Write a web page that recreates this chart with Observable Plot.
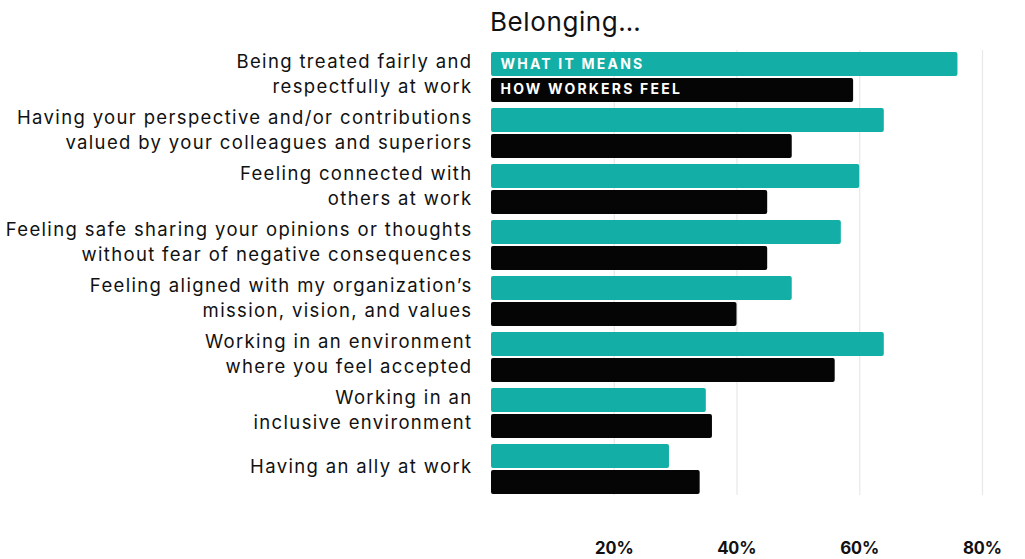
<!DOCTYPE html>
<html>
<head>
<meta charset="utf-8">
<script src="https://cdn.jsdelivr.net/npm/d3@7"></script>
<script src="https://cdn.jsdelivr.net/npm/@observablehq/plot@0.6"></script>
<style>
  html, body { margin: 0; padding: 0; background: #fff; }
  body { width: 1025px; height: 559px; overflow: hidden; font-family: "Inter", "Noto Sans", sans-serif; }
  #title { height: 45px; box-sizing: border-box; padding-left: 490px; padding-top: 7px; font-size: 26px; color: #111; font-weight: 400; line-height: 30px; letter-spacing: 0.6px; }
  #chart svg { display: block; }
  #chart g.barlabel text { letter-spacing: 2.2px; }
  #chart g[aria-label="y-axis tick label"] text { letter-spacing: 1.35px; }
</style>
</head>
<body>
<div id="title">Belonging…</div>
<div id="chart"></div>
<script>
const categories = [
  "Being treated fairly and\nrespectfully at work",
  "Having your perspective and/or contributions\nvalued by your colleagues and superiors",
  "Feeling connected with\nothers at work",
  "Feeling safe sharing your opinions or thoughts\nwithout fear of negative consequences",
  "Feeling aligned with my organization’s\nmission, vision, and values",
  "Working in an environment\nwhere you feel accepted",
  "Working in an\ninclusive environment",
  "Having an ally at work"
];
const whatItMeans = [76, 64, 60, 57, 49, 64, 35, 29];
const howWorkersFeel = [59, 49, 45, 45, 40, 56, 36, 34];
const seriesNames = ["WHAT IT MEANS", "HOW WORKERS FEEL"];
const xTicks = [20, 40, 60, 80];

const teal = "#13afa6";
const black = "#050505";

const rowsMeans = categories.map((c, i) => ({category: c, value: whatItMeans[i]}));
const rowsFeel = categories.map((c, i) => ({category: c, value: howWorkersFeel[i]}));

const chart = Plot.plot({
  width: 1025,
  height: 514,
  marginLeft: 491,
  marginRight: 43,
  marginTop: 5,
  marginBottom: 64,
  style: {fontFamily: "Inter, 'Noto Sans', sans-serif", background: "#fff"},
  x: {domain: [0, 80]},
  y: {domain: categories, paddingInner: 0.113, paddingOuter: 0},
  marks: [
    Plot.ruleX(xTicks, {stroke: "#e8e8e8", strokeWidth: 1.2}),
    Plot.barX(rowsMeans, {x: "value", y: "category", fill: teal, insetBottom: 26, rx: 2}),
    Plot.barX(rowsFeel, {x: "value", y: "category", fill: black, insetTop: 26, rx: 2}),
    Plot.text([{category: categories[0], label: seriesNames[0]}], {
      x: 0, y: "category", text: "label", textAnchor: "start", dx: 9, dy: -13,
      fill: "white", fontWeight: 700, fontSize: 14, className: "barlabel"
    }),
    Plot.text([{category: categories[0], label: seriesNames[1]}], {
      x: 0, y: "category", text: "label", textAnchor: "start", dx: 9, dy: 12,
      fill: "white", fontWeight: 700, fontSize: 14, className: "barlabel"
    }),
    Plot.axisY({
      tickSize: 0, tickPadding: 19, fontSize: 18.5, lineHeight: 1.35, dy: -5,
      fill: "#111", label: null
    }),
    Plot.axisX({
      ticks: xTicks, tickSize: 0, tickPadding: 46, tickFormat: d => d + "%",
      fontSize: 17, fontWeight: 700, fill: "#111", label: null
    })
  ]
});
document.getElementById("chart").appendChild(chart);
</script>
</body>
</html>
